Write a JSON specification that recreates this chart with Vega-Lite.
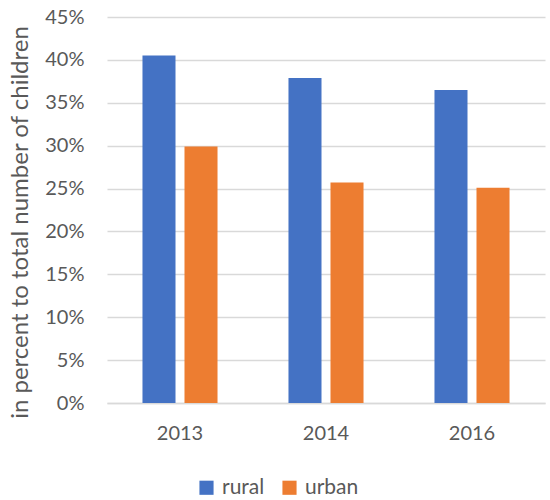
{
  "$schema": "https://vega.github.io/schema/vega-lite/v6.json",
  "autosize": {"type": "none"},
  "width": 438,
  "height": 386,
  "padding": {"left": 107, "top": 17, "right": 5, "bottom": 97},
  "background": "white",
  "config": {
    "font": "Lato",
    "view": {"stroke": null}
  },
  "data": {
    "values": [
      {"year": "2013", "area": "rural", "value": 40.5},
      {"year": "2013", "area": "urban", "value": 29.9},
      {"year": "2014", "area": "rural", "value": 37.9},
      {"year": "2014", "area": "urban", "value": 25.7},
      {"year": "2016", "area": "rural", "value": 36.5},
      {"year": "2016", "area": "urban", "value": 25.1}
    ]
  },
  "mark": {"type": "bar"},
  "encoding": {
    "x": {
      "field": "year",
      "type": "nominal",
      "scale": {"paddingInner": 0.486, "paddingOuter": 0.243},
      "axis": {
        "title": null,
        "labelAngle": 0,
        "labelFontSize": 20,
        "labelColor": "#595959",
        "labelPadding": 20,
        "ticks": false,
        "domainColor": "#d9d9d9",
        "domainWidth": 1.5
      }
    },
    "xOffset": {
      "field": "area",
      "type": "nominal",
      "scale": {"paddingInner": 0.214, "paddingOuter": 0}
    },
    "y": {
      "field": "value",
      "type": "quantitative",
      "scale": {"domain": [0, 45]},
      "axis": {
        "title": "in percent to total number of children",
        "titleFontSize": 24,
        "titleFontWeight": "normal",
        "titleColor": "#595959",
        "titleX": -80,
        "titleY": 205,
        "titleAngle": -90,
        "titleAlign": "center",
        "titleBaseline": "alphabetic",
        "values": [0, 5, 10, 15, 20, 25, 30, 35, 40, 45],
        "labelExpr": "datum.value + '%'",
        "labelFontSize": 20,
        "labelColor": "#595959",
        "labelPadding": 23,
        "ticks": false,
        "domain": false,
        "gridColor": "#d9d9d9",
        "gridWidth": 1.5
      }
    },
    "color": {
      "field": "area",
      "type": "nominal",
      "scale": {"domain": ["rural", "urban"], "range": ["#4472c4", "#ed7d31"]},
      "legend": {
        "title": null,
        "orient": "none",
        "direction": "horizontal",
        "legendX": 89,
        "legendY": 460,
        "symbolType": "square",
        "symbolSize": 200,
        "symbolStrokeWidth": 0,
        "labelFontSize": 21,
        "labelColor": "#595959",
        "labelOffset": 5,
        "columnPadding": 14
      }
    }
  }
}
